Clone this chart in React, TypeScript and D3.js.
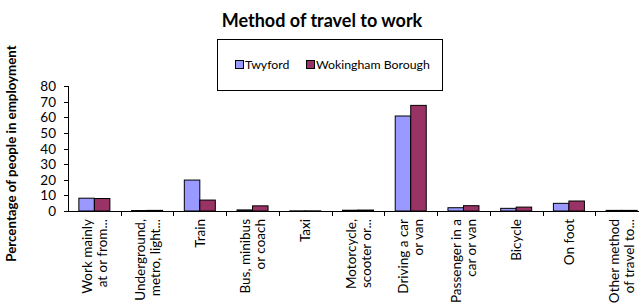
import React from "react";
import * as d3 from "d3";

const categories = [
  ["Work mainly", "at or from..."],
  ["Underground,", "metro, light..."],
  ["Train"],
  ["Bus, minibus", "or coach"],
  ["Taxi"],
  ["Motorcycle,", "scooter or..."],
  ["Driving a car", "or van"],
  ["Passenger in a", "car or van"],
  ["Bicycle"],
  ["On foot"],
  ["Other method", "of travel to..."],
];
const seriesNames = ["Twyford", "Wokingham Borough"];
const twyford = [8.2, 0.3, 19.8, 0.7, 0.1, 0.5, 60.8, 2.1, 1.7, 4.9, 0.4];
const wokingham = [8.0, 0.4, 7.0, 3.3, 0.1, 0.6, 67.6, 3.4, 2.5, 6.4, 0.4];
const yTicks = [0, 10, 20, 30, 40, 50, 60, 70, 80];
const colors = ["#9999FF", "#993366"];
const title = "Method of travel to work";
const yTitle = "Percentage of people in employment";

const W = 639;
const H = 305;
const FONT = "Lato, 'Open Sans', sans-serif";

export default function App() {
  const left = 68;
  const right = 648;
  const top = 86;
  const bottom = 211;
  const idx = categories.map((_, i) => i);
  const x = d3.scaleBand<number>().domain(idx).range([left, right]).padding(0);
  const inner = d3
    .scaleBand<string>()
    .domain(seriesNames)
    .range([0, x.bandwidth()])
    .paddingInner(0)
    .paddingOuter(0.7);
  const y = d3.scaleLinear().domain([0, 80]).range([bottom, top]);
  const values = [twyford, wokingham];

  return (
    <svg
      width={W}
      height={H}
      style={{ position: "absolute", left: 0, top: 0, background: "#fff" }}
      fontFamily={FONT}
    >
      <rect x={0} y={0} width={W} height={H} fill="#fff" />
      <text x={322} y={27} textAnchor="middle" fontSize={18} fontWeight="bold" fill="#000">
        {title}
      </text>
      {/* legend */}
      <rect x={217.5} y={39.5} width={225} height={51} fill="#fff" stroke="#000" strokeWidth={1} />
      {seriesNames.map((s, i) => {
        const lx = i === 0 ? 235 : 306;
        return (
          <g key={s}>
            <rect x={lx + 0.5} y={60.5} width={8} height={8} fill={colors[i]} stroke="#000" strokeWidth={1} />
            <text x={lx + 10} y={69} fontSize={12.3} fill="#000">
              {s}
            </text>
          </g>
        );
      })}
      {/* y title */}
      <text
        transform={`translate(16,153.5) rotate(-90)`}
        textAnchor="middle"
        fontSize={13.3}
        fontWeight="bold"
        fill="#000"
      >
        {yTitle}
      </text>
      {/* y ticks */}
      {yTicks.map((t) => (
        <g key={t}>
          <line x1={left - 4} x2={left} y1={Math.round(y(t)) + 0.5} y2={Math.round(y(t)) + 0.5} stroke="#000" />
          <text x={56} y={y(t) + 5} textAnchor="end" fontSize={13.5} fill="#000">
            {t}
          </text>
        </g>
      ))}
      {/* bars */}
      {idx.map((i) =>
        seriesNames.map((s, j) => {
          const bx = (x(i) as number) + (inner(s) as number);
          const by = y(values[j][i]);
          return (
            <rect
              key={`${i}-${j}`}
              x={bx}
              y={by}
              width={inner.bandwidth()}
              height={bottom - by}
              fill={colors[j]}
              stroke="#000"
              strokeWidth={1}
            />
          );
        })
      )}
      {/* axes */}
      <line x1={left + 0.5} x2={left + 0.5} y1={top} y2={bottom} stroke="#000" />
      <line x1={left} x2={right} y1={bottom + 0.5} y2={bottom + 0.5} stroke="#000" />
      {idx.slice(1).map((i) => (
        <line
          key={i}
          x1={Math.round(x(i) as number) + 0.5}
          x2={Math.round(x(i) as number) + 0.5}
          y1={bottom}
          y2={bottom + 5}
          stroke="#000"
        />
      ))}
      {/* x labels */}
      {categories.map((lines, i) => {
        const cx = (x(i) as number) + x.bandwidth() / 2;
        const pitch = 15;
        const n = lines.length;
        return lines.map((ln, k) => {
          const off = (k - (n - 1) / 2) * pitch;
          return (
            <text
              key={`${i}-${k}`}
              transform={`translate(${cx + off + 5},${219}) rotate(-90)`}
              textAnchor="end"
              fontSize={13.5}
              fill="#000"
            >
              {ln}
            </text>
          );
        });
      })}
    </svg>
  );
}
